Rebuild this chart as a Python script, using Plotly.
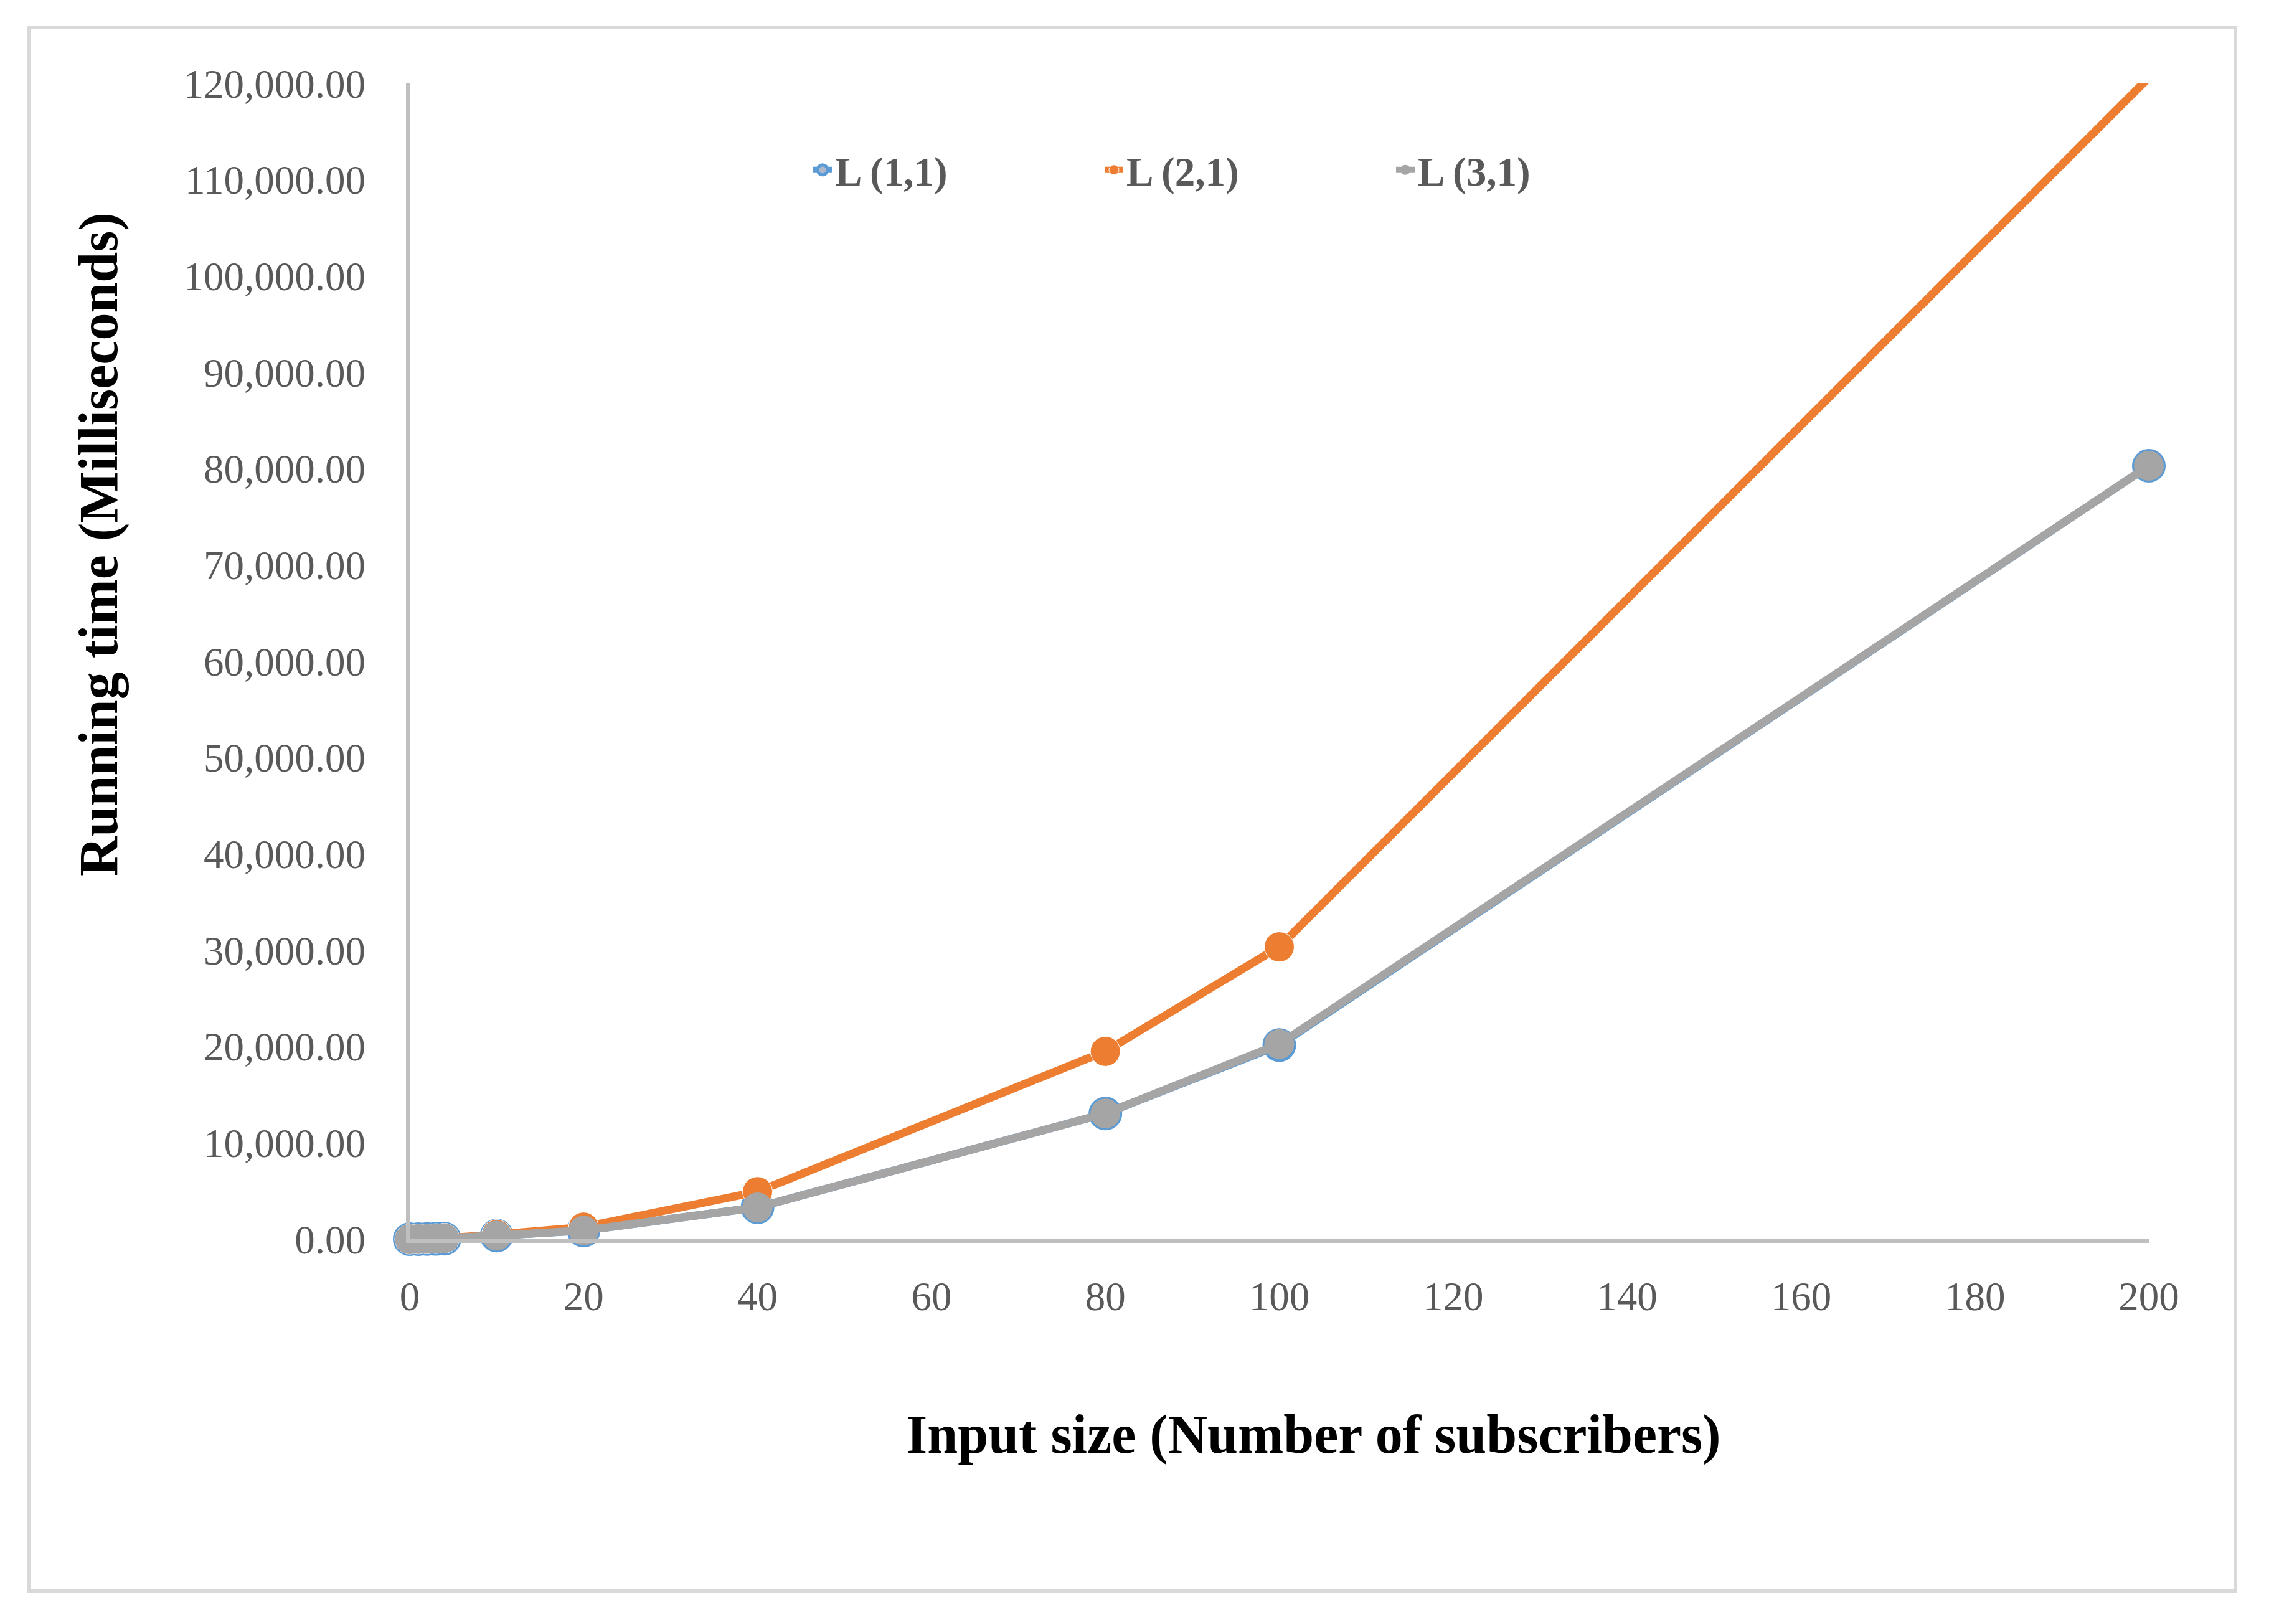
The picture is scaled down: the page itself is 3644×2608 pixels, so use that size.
import plotly.graph_objects as go

# input sizes (number of subscribers)
x_vals = [0, 1, 2, 3, 4, 10, 20, 40, 80, 100, 200]

# running time in milliseconds
l11 = [0, 5, 15, 30, 50, 370, 900, 3300, 13050, 20150, 80300]
l21 = [0, 10, 30, 60, 100, 480, 1250, 4930, 19500, 30350, 120600]
l31 = [0, 10, 30, 60, 100, 370, 900, 3300, 13050, 20250, 80300]

names = ['L (1,1)', 'L (2,1)', 'L (3,1)']
x_title = 'Input size (Number of subscribers)'
y_title = 'Running time (Milliseconds)'

W, H = 3644, 2608
OFF = 8  # page body margin of the html
PX0, PX1 = 658, 3451   # plot area in reference pixels
PY0, PY1 = 134, 1990
FONT = 'Liberation Serif'

pw, ph = PX1 - PX0, PY1 - PY0


def px_x(v):
    return (v - PX0) / pw


def px_y(v):
    return (PY1 - v) / ph


fig = go.Figure()

fig.add_trace(go.Scatter(
    x=x_vals, y=l11, name=names[0], mode='lines+markers', cliponaxis=False,
    line=dict(color='#5B9BD5', width=13),
    marker=dict(size=48, color='#ADB9CA', opacity=1,
                line=dict(color='#5B9BD5', width=6))))

# last orange point sits above the axis max; hide its marker like excel does
sizes_21 = [48] * (len(x_vals) - 1) + [0]
fig.add_trace(go.Scatter(
    x=x_vals, y=l21, name=names[1], mode='lines+markers', cliponaxis=False,
    line=dict(color='#ED7D31', width=13),
    marker=dict(size=sizes_21, color='#ED7D31', opacity=1)))

fig.add_trace(go.Scatter(
    x=x_vals, y=l31, name=names[2], mode='lines+markers', cliponaxis=False,
    line=dict(color='#A5A5A5', width=13),
    marker=dict(size=48, color='#A5A5A5', opacity=1)))

fig.update_layout(
    width=W, height=H,
    margin=dict(l=PX0 - OFF, r=W - PX1 + OFF, t=PY0 - OFF, b=H - PY1 + OFF,
                autoexpand=False),
    paper_bgcolor='white', plot_bgcolor='white',
    font=dict(family=FONT, color='#595959', size=65),
    showlegend=True,
    legend=dict(orientation='h', x=px_x(1301), y=px_y(273),
                xanchor='left', yanchor='middle',
                font=dict(family=FONT, size=65, color='#595959', weight='bold'),
                entrywidth=423, bgcolor='rgba(0,0,0,0)'),
    shapes=[dict(type='rect', xref='paper', yref='paper',
                 x0=px_x(46), x1=px_x(3590), y0=px_y(2555), y1=px_y(44),
                 line=dict(color='#D9D9D9', width=6), layer='below')],
    annotations=[
        dict(text=x_title, xref='paper', yref='paper',
             x=px_x(2109), y=px_y(2303), xanchor='center', yanchor='middle',
             showarrow=False,
             font=dict(family=FONT, size=88, color='black', weight='bold')),
        dict(text=y_title, xref='paper', yref='paper', textangle=-90,
             x=px_x(159), y=px_y(874), xanchor='center', yanchor='middle',
             showarrow=False,
             font=dict(family=FONT, size=88, color='black', weight='bold')),
    ],
)

fig.update_xaxes(
    range=[0, 200], dtick=20, tick0=0,
    showgrid=False, zeroline=False,
    showline=True, linecolor='#BFBFBF', linewidth=6,
    ticks='', ticklabelstandoff=30,
    tickfont=dict(family=FONT, size=65, color='#595959'))

fig.update_yaxes(
    range=[0, 120000], dtick=10000, tick0=0, tickformat=',.2f',
    showgrid=False, zeroline=False,
    showline=True, linecolor='#BFBFBF', linewidth=6,
    ticks='', ticklabelstandoff=52,
    tickfont=dict(family=FONT, size=65, color='#595959'))

fig.write_html("out.html")
